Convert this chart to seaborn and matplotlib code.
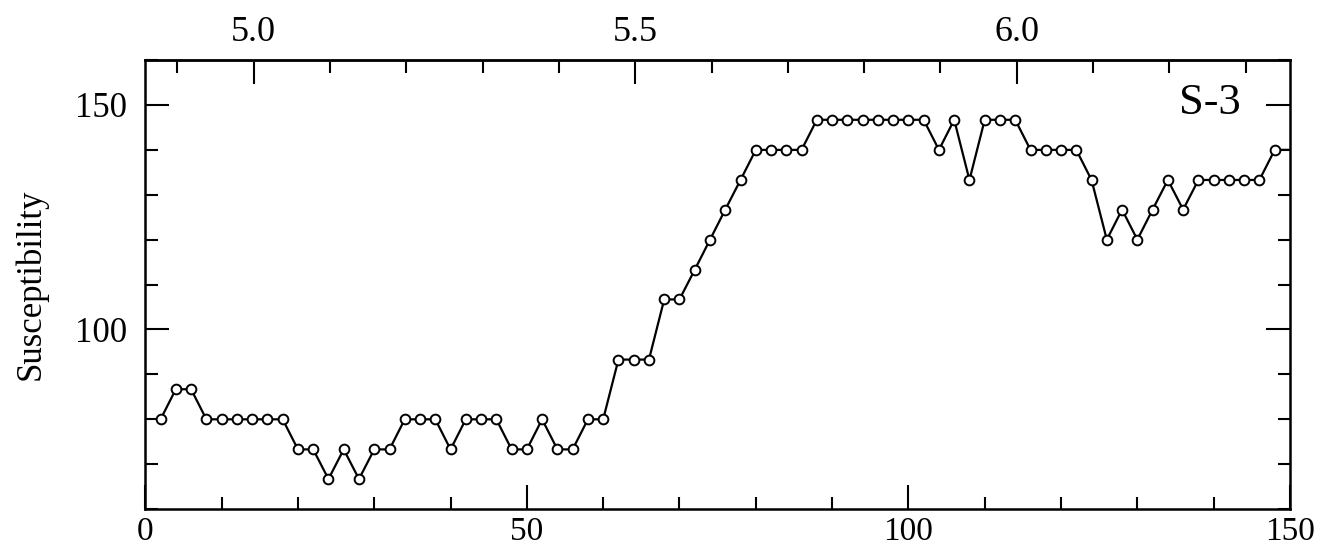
import matplotlib
matplotlib.use("Agg")
import matplotlib.pyplot as plt
import seaborn as sns
import pandas as pd
from matplotlib.ticker import MultipleLocator

# depth index (every 2 units) and susceptibility readings
depth = list(range(2, 152, 2))
susceptibility = [
    80.0, 86.7, 86.7, 80.0, 80.0, 80.0, 80.0, 80.0, 80.0, 73.3,   # 2-20
    73.3, 66.7, 73.3, 66.7, 73.3, 73.3, 80.0, 80.0, 80.0, 73.3,   # 22-40
    80.0, 80.0, 80.0, 73.3, 73.3, 80.0, 73.3, 73.3, 80.0, 80.0,   # 42-60
    93.3, 93.3, 93.3, 106.7, 106.7, 113.3, 120.0, 126.7, 133.3, 140.0,  # 62-80
    140.0, 140.0, 140.0, 146.7, 146.7, 146.7, 146.7, 146.7, 146.7, 146.7,  # 82-100
    146.7, 140.0, 146.7, 133.3, 146.7, 146.7, 146.7, 140.0, 140.0, 140.0,  # 102-120
    140.0, 133.3, 120.0, 126.7, 120.0, 126.7, 133.3, 126.7, 133.3, 133.3,  # 122-140
    133.3, 133.3, 133.3, 140.0, 140.0,                                    # 142-150
]
sample_label = "S-3"
y_label = "Susceptibility"
top_ticks = [5.0, 5.5, 6.0]

df = pd.DataFrame({"depth": depth, "susceptibility": susceptibility})

sns.set_theme(style="ticks")
plt.rcParams["font.family"] = ["Liberation Serif", "DejaVu Serif"]
plt.rcParams["text.color"] = "black"
plt.rcParams["xtick.labelcolor"] = "black"
plt.rcParams["ytick.labelcolor"] = "black"
plt.rcParams["axes.labelcolor"] = "black"

fig = plt.figure(figsize=(13.21, 5.51), dpi=100)
ax = fig.add_axes([0.110, 0.076, 0.8665, 0.815])

sns.lineplot(data=df, x="depth", y="susceptibility", ax=ax, color="black",
             linewidth=1.6, marker="o", markersize=7, markerfacecolor="white",
             markeredgecolor="black", markeredgewidth=1.4,
             markevery=list(range(len(depth) - 1)))

ax.set_xlim(0, 150)
ax.set_ylim(60, 160)
ax.set_xlabel("")
ax.set_ylabel(y_label, fontsize=25, labelpad=20)

ax.xaxis.set_major_locator(MultipleLocator(50))
ax.xaxis.set_minor_locator(MultipleLocator(10))
ax.yaxis.set_minor_locator(MultipleLocator(10))
ax.set_yticks([100, 150])

ax.tick_params(axis="both", which="both", direction="in", top=False, right=True,
               labelsize=25, width=1.5, color="black", labelcolor="black")
ax.tick_params(axis="both", which="major", length=17)
ax.tick_params(axis="both", which="minor", length=9)
ax.tick_params(axis="x", which="major", labelsize=24, pad=5)
ax.tick_params(axis="y", which="major", pad=13)

for sp in ax.spines.values():
    sp.set_linewidth(1.8)
    sp.set_color("black")

# top axis: depth scale (m)
secax = ax.secondary_xaxis("top", functions=(lambda x: 4.858 + x / 100.0,
                                             lambda d: (d - 4.858) * 100.0))
secax.set_xticks(top_ticks)
secax.xaxis.set_minor_locator(MultipleLocator(0.1))
secax.tick_params(axis="x", which="both", direction="in", labelsize=26,
                  width=1.5, color="black", labelcolor="black")
secax.tick_params(axis="x", which="major", length=17, pad=8)
secax.tick_params(axis="x", which="minor", length=9)
secax.spines["top"].set_linewidth(1.8)

ax.text(0.957, 0.95, sample_label, transform=ax.transAxes, ha="right", va="top",
        fontsize=32)

fig.savefig("out.png", dpi=100, facecolor="white")
